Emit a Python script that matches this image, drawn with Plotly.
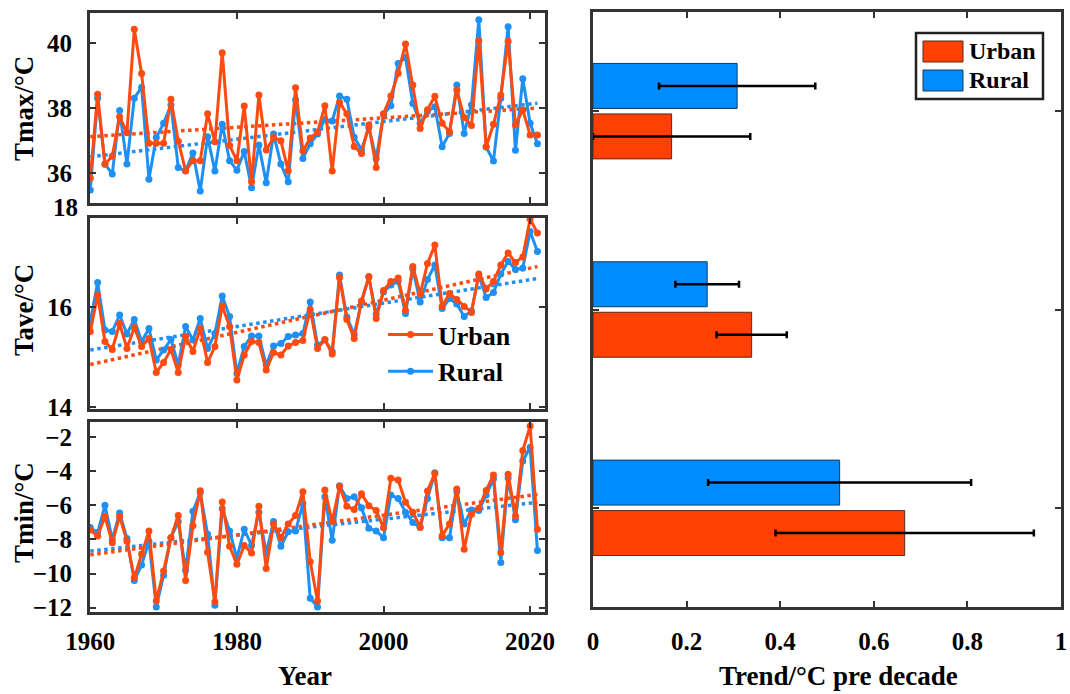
import plotly.graph_objects as go

# ---------------- data ----------------
years = list(range(1960, 2022))

tmax_urban = [35.84, 38.42, 36.27, 36.52, 37.73, 37.25, 40.42, 39.06, 36.92, 36.92,
              36.92, 38.27, 36.98, 36.07, 36.38, 36.38, 37.82, 36.96, 39.70, 36.85,
              36.38, 38.06, 35.73, 38.40, 36.71, 37.09, 36.99, 36.07, 38.62, 36.68,
              37.08, 37.26, 38.07, 36.06, 38.18, 37.82, 36.82, 36.60, 37.48, 36.17,
              37.82, 38.37, 39.07, 39.97, 38.71, 37.37, 37.95, 38.36, 37.53, 37.27,
              38.55, 37.71, 37.46, 40.07, 36.81, 37.50, 38.40, 40.05, 37.48, 37.94,
              37.17, 37.17]
tmax_rural = [35.48, 38.30, 36.28, 35.97, 37.92, 36.28, 38.30, 38.64, 35.81, 37.09,
              37.53, 38.09, 36.17, 36.06, 36.62, 35.45, 37.12, 36.06, 37.50, 36.38,
              36.09, 36.66, 35.55, 36.86, 35.70, 37.20, 36.28, 35.73, 38.25, 36.45,
              36.90, 37.20, 37.65, 37.60, 38.37, 38.27, 37.10, 36.72, 37.40, 36.45,
              37.80, 38.07, 39.37, 39.55, 38.14, 37.53, 37.90, 38.04, 36.81, 37.22,
              38.71, 37.22, 38.09, 40.71, 36.80, 36.37, 38.30, 40.50, 36.70, 38.90,
              37.53, 36.90]

tave_urban = [15.51, 16.24, 15.31, 15.15, 15.67, 15.17, 15.59, 15.21, 15.37, 14.69,
              14.89, 15.15, 14.69, 15.41, 15.11, 15.57, 14.89, 15.21, 16.02, 15.61,
              14.54, 15.04, 15.31, 15.29, 14.74, 15.09, 15.04, 15.22, 15.29, 15.33,
              15.95, 15.17, 15.35, 15.06, 16.59, 15.75, 15.37, 16.12, 16.61, 15.77,
              16.33, 16.51, 16.58, 15.93, 16.81, 16.26, 16.87, 17.24, 16.01, 16.27,
              16.15, 16.01, 15.89, 16.66, 16.36, 16.51, 16.84, 17.08, 16.89, 17.00,
              17.76, 17.48]
tave_rural = [15.71, 16.49, 15.54, 15.51, 15.84, 15.46, 15.75, 15.31, 15.57, 14.94,
              15.14, 15.35, 14.84, 15.61, 15.34, 15.77, 15.17, 15.47, 16.22, 15.81,
              14.67, 15.21, 15.42, 15.42, 14.84, 15.22, 15.27, 15.41, 15.44, 15.47,
              16.10, 15.24, 15.34, 15.11, 16.64, 15.80, 15.45, 16.10, 16.60, 15.85,
              16.30, 16.44, 16.51, 15.87, 16.76, 16.10, 16.55, 16.84, 15.97, 16.17,
              16.06, 15.81, 15.92, 16.63, 16.19, 16.29, 16.66, 16.91, 16.75, 16.78,
              17.51, 17.11]

tmin_urban = [-7.45, -7.80, -6.65, -8.20, -6.65, -8.10, -10.25, -8.85, -7.50, -11.60,
              -9.85, -7.90, -6.60, -10.40, -7.20, -5.15, -8.75, -11.65, -5.80, -8.40,
              -9.45, -8.35, -8.80, -6.05, -9.70, -7.10, -7.90, -7.10, -6.60, -5.20,
              -9.30, -11.60, -5.10, -6.95, -4.90, -6.05, -6.25, -5.33, -6.02, -6.30,
              -7.32, -4.42, -4.52, -5.82, -6.40, -7.28, -5.16, -4.13, -7.78, -7.10,
              -5.04, -8.58, -6.52, -6.17, -5.13, -4.23, -8.78, -4.18, -6.62, -2.79,
              -1.36, -7.40]
tmin_rural = [-7.30, -7.60, -6.00, -8.00, -6.45, -7.95, -10.40, -9.50, -8.10, -11.95,
              -10.10, -7.90, -6.95, -9.80, -6.35, -5.25, -7.70, -11.85, -6.20, -7.50,
              -9.10, -7.40, -8.35, -6.40, -8.80, -6.95, -8.40, -7.55, -7.50, -5.90,
              -11.45, -11.95, -5.50, -8.05, -4.85, -5.60, -5.50, -6.15, -7.35, -7.50,
              -7.90, -5.40, -5.60, -6.40, -7.00, -7.30, -5.60, -4.10, -7.90, -7.90,
              -5.20, -7.10, -6.27, -6.30, -5.40, -4.45, -9.35, -4.40, -6.85, -3.40,
              -2.60, -8.65]

# linear trend lines (start / end values)
trend_years = [1960, 2021]
tmax_urban_trend = [37.12, 38.00]
tmax_rural_trend = [36.50, 38.15]
tave_urban_trend = [14.85, 16.81]
tave_rural_trend = [15.14, 16.57]
tmin_urban_trend = [-8.90, -5.36]
tmin_rural_trend = [-8.68, -5.83]

# tick labels
tmax_ticks = [36, 38, 40]
tave_ticks = [14, 16]
tmin_ticks = [-12, -10, -8, -6, -4, -2]
tmin_ticktext = ["\u221212", "\u221210", "\u22128", "\u22126", "\u22124", "\u22122"]
year_ticks = [1960, 1980, 2000, 2020]
trend_ticks = [0, 0.2, 0.4, 0.6, 0.8, 1]
trend_ticktext = ["0", "0.2", "0.4", "0.6", "0.8", "1"]

# decadal trend bars (Tmax, Tave, Tmin)
bar_positions = [3, 2, 1]
bar_names = ["Tmax", "Tave", "Tmin"]
trend_urban = [0.168, 0.339, 0.666]
trend_rural = [0.308, 0.244, 0.527]
err_urban = [0.168, 0.075, 0.276]
err_rural = [0.167, 0.068, 0.281]

# ---------------- style ----------------
W, H = 1070, 694
FONT = "Liberation Serif"
RED_LINE = "#FF4A10"
BLUE_LINE = "#1E90F5"
RED_BAR = "#FF4000"
BLUE_BAR = "#008CFF"
FRAME = "#333333"


def fx(p):
    return p / W


def fy(p):
    return 1 - p / H


fig = go.Figure()

panels = [
    (tmax_urban, tmax_rural, tmax_urban_trend, tmax_rural_trend, "x", "y"),
    (tave_urban, tave_rural, tave_urban_trend, tave_rural_trend, "x2", "y2"),
    (tmin_urban, tmin_rural, tmin_urban_trend, tmin_rural_trend, "x3", "y3"),
]

for i, (u, r, ut, rt, xa, ya) in enumerate(panels):
    fig.add_trace(go.Scatter(x=trend_years, y=rt, mode="lines", xaxis=xa, yaxis=ya,
                             line=dict(color=BLUE_LINE, width=3.5, dash="dot"),
                             showlegend=False, hoverinfo="skip"))
    fig.add_trace(go.Scatter(x=trend_years, y=ut, mode="lines", xaxis=xa, yaxis=ya,
                             line=dict(color=RED_LINE, width=3.5, dash="dot"),
                             showlegend=False, hoverinfo="skip"))
    fig.add_trace(go.Scatter(x=years, y=r, mode="lines+markers", name="Rural",
                             xaxis=xa, yaxis=ya, legendrank=2,
                             line=dict(color=BLUE_LINE, width=3),
                             marker=dict(size=7, color=BLUE_LINE),
                             showlegend=(i == 1)))
    fig.add_trace(go.Scatter(x=years, y=u, mode="lines+markers", name="Urban",
                             xaxis=xa, yaxis=ya, legendrank=1,
                             line=dict(color=RED_LINE, width=3),
                             marker=dict(size=7, color=RED_LINE),
                             showlegend=(i == 1)))

# bars: urban first (lower slot), rural second (upper slot)
fig.add_trace(go.Bar(y=bar_positions, x=trend_urban, orientation="h", name="Urban",
                     xaxis="x4", yaxis="y4", showlegend=False,
                     marker=dict(color=RED_BAR, line=dict(color="#5a2a1a", width=1)),
                     error_x=dict(type="data", array=err_urban, color="black",
                                  thickness=2.5, width=3.5)))
fig.add_trace(go.Bar(y=bar_positions, x=trend_rural, orientation="h", name="Rural",
                     xaxis="x4", yaxis="y4", showlegend=False,
                     marker=dict(color=BLUE_BAR, line=dict(color="#1a3a5a", width=1)),
                     error_x=dict(type="data", array=err_rural, color="black",
                                  thickness=2.5, width=3.5)))

tickfont = dict(family=FONT, size=25, color="black", weight="bold")
base_axis = dict(showline=True, linewidth=3, linecolor=FRAME, mirror="ticks",
                 ticks="inside", ticklen=6, tickwidth=2, tickcolor=FRAME,
                 showgrid=False, zeroline=False, tickfont=tickfont,
                 automargin=False, ticklabeloverflow="allow")

xdom = [fx(90), fx(545)]
xrange = [1959.96, 2022.03]

layout = dict(
    width=W, height=H, margin=dict(l=0, r=0, t=0, b=0, pad=0),
    paper_bgcolor="white", plot_bgcolor="white",
    barmode="group", bargap=0.491, bargroupgap=0.109,
    xaxis=dict(base_axis, domain=xdom, range=xrange, tickvals=year_ticks,
               showticklabels=False, anchor="y"),
    yaxis=dict(base_axis, domain=[fy(203), fy(13)], range=[35.08, 40.92],
               tickvals=tmax_ticks, anchor="x", ticklabelstandoff=10),
    xaxis2=dict(base_axis, domain=xdom, range=xrange, tickvals=year_ticks,
                showticklabels=False, anchor="y2"),
    yaxis2=dict(base_axis, domain=[fy(409), fy(218)], range=[13.96, 17.78],
                tickvals=tave_ticks, anchor="x2", ticklabelstandoff=10),
    xaxis3=dict(base_axis, domain=xdom, range=xrange, tickvals=year_ticks,
                anchor="y3", ticklabelstandoff=5),
    yaxis3=dict(base_axis, domain=[fy(612), fy(422)], range=[-12.25, -1.12],
                tickvals=tmin_ticks, ticktext=tmin_ticktext, anchor="x3",
                ticklabelstandoff=10),
    xaxis4=dict(base_axis, domain=[fx(593), fx(1061)], range=[0, 1],
                tickvals=trend_ticks, ticktext=trend_ticktext, anchor="y4",
                ticklabelstandoff=10),
    yaxis4=dict(base_axis, domain=[fy(607), fy(12)], range=[0.5, 3.5],
                tickvals=bar_positions, showticklabels=False, anchor="x4"),
    legend=dict(x=fx(383), y=fy(311), xanchor="left", yanchor="top",
                itemwidth=45,
                bgcolor="rgba(0,0,0,0)", borderwidth=0,
                font=dict(family=FONT, size=26, color="black", weight="bold")),
)
fig.update_layout(**layout)

title_font = dict(family=FONT, size=27, color="black", weight="bold")
ann = [
    dict(text="18", x=fx(80), y=fy(207), xanchor="right", yanchor="middle",
         font=tickfont),
    dict(text="Tmax/°C", x=fx(24), y=fy(108), textangle=-90, font=title_font),
    dict(text="Tave/°C", x=fx(24), y=fy(310), textangle=-90, font=title_font),
    dict(text="Tmin/°C", x=fx(24), y=fy(512), textangle=-90, font=title_font),
    dict(text="Year", x=fx(305), y=fy(676), font=title_font),
    dict(text="Trend/°C pre decade", x=fx(838), y=fy(676), font=title_font),
    dict(text="Urban", x=fx(967), y=fy(51), xanchor="left",
         font=dict(family=FONT, size=24, color="black", weight="bold")),
    dict(text="Rural", x=fx(967), y=fy(80), xanchor="left",
         font=dict(family=FONT, size=24, color="black", weight="bold")),
]
for a in ann:
    a.update(xref="paper", yref="paper", showarrow=False)
    a.setdefault("xanchor", "center")
    a.setdefault("yanchor", "middle")
fig.update_layout(annotations=ann)

# legend box for the bar chart
shapes = [
    dict(type="rect", x0=fx(916), x1=fx(1043), y0=fy(99), y1=fy(33),
         line=dict(color="#222", width=2.5), fillcolor="white"),
    dict(type="rect", x0=fx(923), x1=fx(963), y0=fy(62), y1=fy(41),
         line=dict(color="#5a2a1a", width=1), fillcolor=RED_BAR),
    dict(type="rect", x0=fx(923), x1=fx(963), y0=fy(91), y1=fy(70),
         line=dict(color="#1a3a5a", width=1), fillcolor=BLUE_BAR),
]
for s in shapes:
    s.update(xref="paper", yref="paper")
fig.update_layout(shapes=shapes)

fig.write_html("out.html")
